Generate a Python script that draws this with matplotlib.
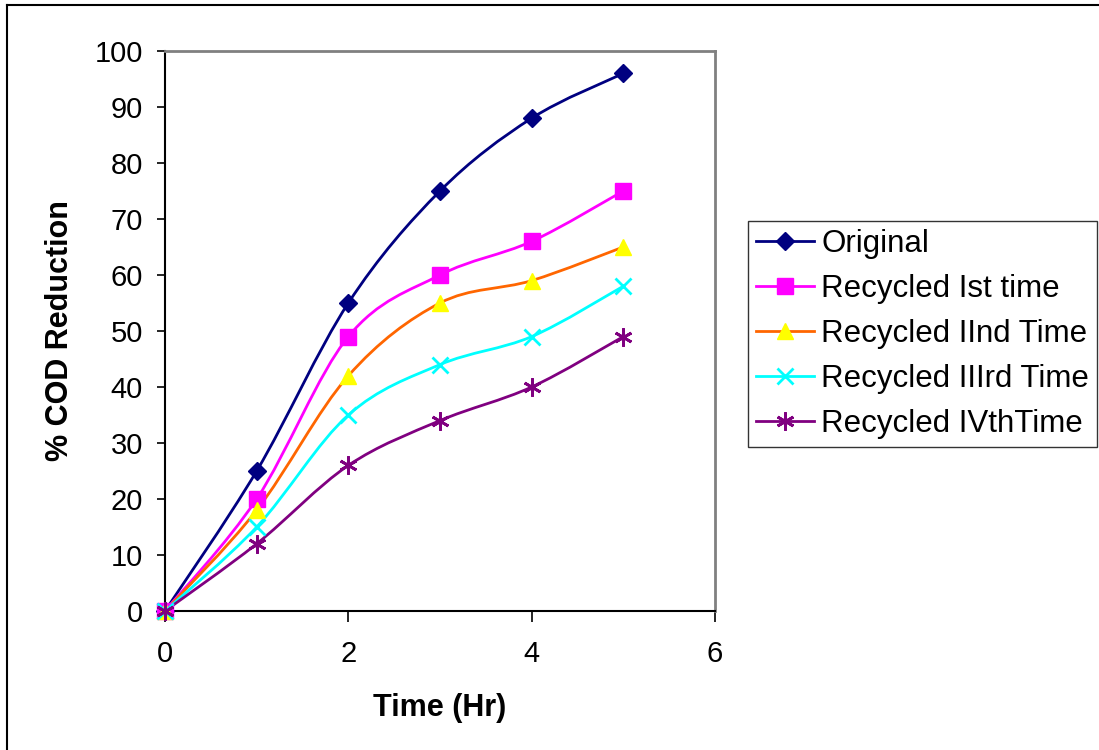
import matplotlib
matplotlib.use('Agg')
import matplotlib.pyplot as plt
from matplotlib.path import Path
from matplotlib.patches import PathPatch
from matplotlib.lines import Line2D
import numpy as np

plt.rcParams['font.family'] = ['Liberation Sans', 'DejaVu Sans']

time_hr = [0, 1, 2, 3, 4, 5]
original = [0, 25, 55, 75, 88, 96]
recycled_1 = [0, 20, 49, 60, 66, 75]
recycled_2 = [0, 18, 42, 55, 59, 65]
recycled_3 = [0, 15, 35, 44, 49, 58]
recycled_4 = [0, 12, 26, 34, 40, 49]

labels = ['Original', 'Recycled Ist time', 'Recycled IInd Time',
          'Recycled IIIrd Time', 'Recycled IVthTime']
series = [original, recycled_1, recycled_2, recycled_3, recycled_4]
line_colors = ['#000080', '#FF00FF', '#FF6600', '#00FFFF', '#800080']
marker_face = ['#000080', '#FF00FF', '#FFFF00', '#00FFFF', '#800080']
markers = ['D', 's', '^', 'x', (6, 2, 0)]
marker_sizes = [9, 11, 11, 11, 13]
marker_ew = [1, 1, 1, 2, 2]


def smooth_path(xs, ys):
    # excel style smoothed line: bezier segments through each point
    pts = np.column_stack([xs, ys]).astype(float)
    n = len(pts)
    verts = [pts[0]]
    codes = [Path.MOVETO]
    for i in range(n - 1):
        p0 = pts[max(i - 1, 0)]
        p1 = pts[i]
        p2 = pts[i + 1]
        p3 = pts[min(i + 2, n - 1)]
        c1 = p1 + (p2 - p0) / 6.0
        c2 = p2 - (p3 - p1) / 6.0
        verts += [c1, c2, p2]
        codes += [Path.CURVE4] * 3
    return Path(verts, codes)


fig = plt.figure(figsize=(10.99, 7.5), dpi=100)
ax = fig.add_axes([165 / 1099, 1 - 611 / 750, 550 / 1099, 560 / 750])

handles = []
for ys, lab, lc, mf, mk, ms, mew in zip(series, labels, line_colors,
                                        marker_face, markers, marker_sizes,
                                        marker_ew):
    patch = PathPatch(smooth_path(time_hr, ys), facecolor='none',
                      edgecolor=lc, lw=2.0, zorder=2)
    ax.add_patch(patch)
    edge = lc if mew > 1 else mf
    ax.plot(time_hr, ys, linestyle='none', marker=mk, markersize=ms,
            markerfacecolor=mf, markeredgecolor=edge, markeredgewidth=mew,
            zorder=3, clip_on=False)
    handles.append(Line2D([], [], color=lc, lw=2.0, marker=mk, markersize=ms,
                          markerfacecolor=mf, markeredgecolor=edge,
                          markeredgewidth=mew))

ax.set_xlim(0, 6)
ax.set_ylim(0, 100)
ax.set_xticks([0, 2, 4, 6])
ax.set_yticks(range(0, 101, 10))
ax.tick_params(axis='both', labelsize=21, direction='out', width=1.2,
               colors='black')
ax.tick_params(axis='x', length=8, pad=13)
ax.tick_params(axis='y', length=6, pad=10)

for side in ['top', 'right']:
    ax.spines[side].set_color('#808080')
    ax.spines[side].set_linewidth(2)
for side in ['left', 'bottom']:
    ax.spines[side].set_color('black')
    ax.spines[side].set_linewidth(1.5)

ax.set_xlabel('Time (Hr)', fontsize=22, fontweight='bold', labelpad=18)
ax.set_ylabel('% COD Reduction', fontsize=22, fontweight='bold', labelpad=14)

leg = fig.legend(handles, labels, loc='upper left',
                 bbox_to_anchor=(748 / 1099, 1 - 221 / 750),
                 fontsize=22.5, frameon=True, fancybox=False, handlelength=1.85,
                 handletextpad=0.25, labelspacing=0.48, borderpad=0.25,
                 borderaxespad=0)
leg.get_frame().set_edgecolor('black')
leg.get_frame().set_linewidth(1.0)

# outer chart border (left and top visible)
fig.add_artist(Line2D([7 / 1099, 7 / 1099], [0, 1 - 5 / 750],
                      transform=fig.transFigure, color='black', lw=1.5))
fig.add_artist(Line2D([7 / 1099, 1], [1 - 5 / 750, 1 - 5 / 750],
                      transform=fig.transFigure, color='black', lw=1.5))

fig.savefig('out.png', dpi=100)
